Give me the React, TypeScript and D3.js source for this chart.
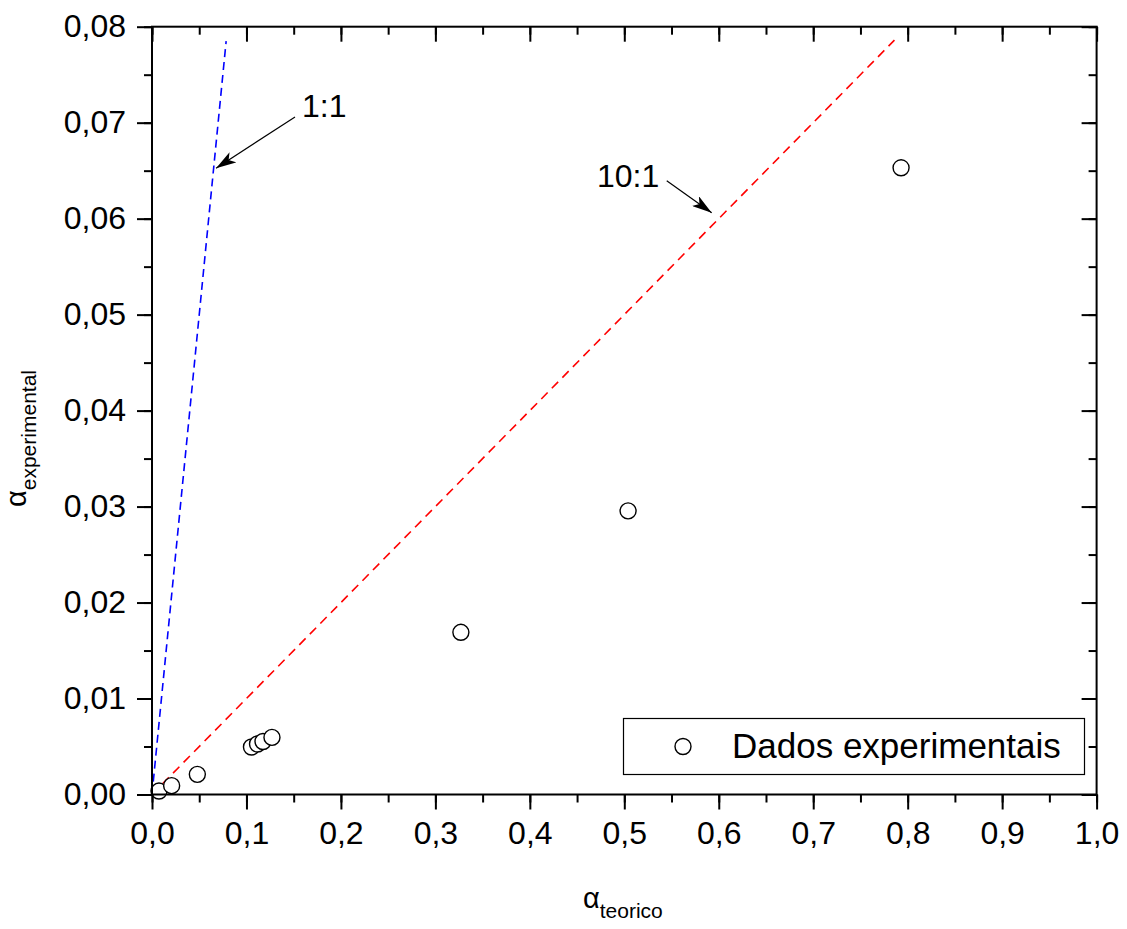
import React, { useEffect, useRef } from 'react';
import * as d3 from 'd3';

const width = 1127;
const height = 929;

// measured data (alpha teorico vs alpha experimental)
const xTeorico = [0.0074, 0.0208, 0.048, 0.1053, 0.1117, 0.1175, 0.127, 0.327, 0.504, 0.793];
const yExperimental = [0.00036, 0.00092, 0.0021, 0.00495, 0.00526, 0.00552, 0.00595, 0.0169, 0.02955, 0.0653];

const xTicks = [0, 0.1, 0.2, 0.3, 0.4, 0.5, 0.6, 0.7, 0.8, 0.9, 1.0];
const yTicks = [0, 0.01, 0.02, 0.03, 0.04, 0.05, 0.06, 0.07, 0.08];

// reference lines y = x / ratio
const refRatios = [1, 10];
const refXEnd = [0.0785, 0.786];
const refColors = ['#0000ff', '#ff0000'];

// annotations: label, text anchor, arrow start, arrow end (data units)
const annLabels = ['1:1', '10:1'];
const annText = [[0.1588, 0.0706], [0.4711, 0.0633]];
const annFrom = [[0.1514, 0.0706], [0.5449, 0.06396]];
const annTo = [[0.0678, 0.06525], [0.5925, 0.06062]];

const legendLabel = 'Dados experimentais';
const font = '"Liberation Sans", Arial, sans-serif';

const App = () => {
  const svgRef = useRef<SVGSVGElement>(null);

  useEffect(() => {
    const svg = d3.select(svgRef.current);
    svg.selectAll('*').remove();

    const left = 152;
    const right = 1096.6;
    const top = 26.7;
    const bottom = 794.5;

    const x = d3.scaleLinear().domain([0, 1]).range([left, right]);
    const y = d3.scaleLinear().domain([0, 0.08]).range([bottom, top]);
    const fmt = (d: number, n: number) => d3.format('.' + n + 'f')(d).replace('.', ',');

    svg.append('defs')
      .append('marker')
      .attr('id', 'arrow')
      .attr('viewBox', '0 0 20 12')
      .attr('refX', 20)
      .attr('refY', 6)
      .attr('markerWidth', 20)
      .attr('markerHeight', 12)
      .attr('markerUnits', 'userSpaceOnUse')
      .attr('orient', 'auto')
      .append('path')
      .attr('d', 'M0,0 L20,6 L0,12 L5,6 Z')
      .attr('fill', '#000');

    // reference lines
    refRatios.forEach((r, i) => {
      svg.append('line')
        .attr('x1', x(0))
        .attr('y1', y(0))
        .attr('x2', x(refXEnd[i]))
        .attr('y2', y(refXEnd[i] / r))
        .attr('stroke', refColors[i])
        .attr('stroke-width', 1.6)
        .attr('stroke-dasharray', r === 1 ? '8,5' : '9,6');
    });

    // points
    svg.append('g')
      .selectAll('circle')
      .data(xTeorico.map((v, i) => [v, yExperimental[i]]))
      .enter()
      .append('circle')
      .attr('cx', (d) => x(d[0]))
      .attr('cy', (d) => y(d[1]))
      .attr('r', 8)
      .attr('fill', '#fff')
      .attr('stroke', '#000')
      .attr('stroke-width', 1.4);

    // annotations
    annLabels.forEach((lab, i) => {
      svg.append('line')
        .attr('x1', x(annFrom[i][0]))
        .attr('y1', y(annFrom[i][1]))
        .attr('x2', x(annTo[i][0]))
        .attr('y2', y(annTo[i][1]))
        .attr('stroke', '#000')
        .attr('stroke-width', 1.2)
        .attr('marker-end', 'url(#arrow)');
      svg.append('text')
        .attr('x', x(annText[i][0]))
        .attr('y', y(annText[i][1]))
        .attr('font-family', font)
        .attr('font-size', 32)
        .text(lab);
    });

    // axes: labelled left/bottom ticks outward, top/right ticks inward
    const yMinor = d3.range(0, 0.0801, 0.005);
    const xMinor = d3.range(0, 1.001, 0.05);
    const blank = () => '';

    svg.append('g').attr('transform', `translate(${left},0)`)
      .call(d3.axisLeft(y).tickValues(yMinor).tickSize(8).tickFormat(blank));
    svg.append('g').attr('transform', `translate(0,${bottom})`)
      .call(d3.axisBottom(x).tickValues(xMinor).tickSize(8).tickFormat(blank));
    svg.append('g').attr('transform', `translate(0,${top})`)
      .call(d3.axisBottom(x).tickValues(xMinor).tickSize(8).tickFormat(blank));
    svg.append('g').attr('transform', `translate(${right},0)`)
      .call(d3.axisLeft(y).tickValues(yMinor).tickSize(8).tickFormat(blank));

    svg.append('g').attr('transform', `translate(${left},0)`)
      .call(d3.axisLeft(y).tickValues(yTicks).tickSize(15).tickPadding(11).tickFormat((d) => fmt(+d, 2)));
    svg.append('g').attr('transform', `translate(0,${bottom})`)
      .call(d3.axisBottom(x).tickValues(xTicks).tickSize(15).tickPadding(12).tickFormat((d) => fmt(+d, 1)));
    svg.append('g').attr('transform', `translate(0,${top})`)
      .call(d3.axisBottom(x).tickValues(xTicks).tickSize(15).tickFormat(blank));
    svg.append('g').attr('transform', `translate(${right},0)`)
      .call(d3.axisLeft(y).tickValues(yTicks).tickSize(15).tickFormat(blank));

    svg.selectAll('.domain').remove();
    svg.selectAll('.tick line').attr('stroke', '#000').attr('stroke-width', 2);
    svg.selectAll('.tick text')
      .attr('font-family', font)
      .attr('font-size', 32)
      .attr('fill', '#000');

    // frame
    svg.append('rect')
      .attr('x', left)
      .attr('y', top)
      .attr('width', right - left)
      .attr('height', bottom - top)
      .attr('fill', 'none')
      .attr('stroke', '#000')
      .attr('stroke-width', 2);

    // legend
    const lg = svg.append('g');
    lg.append('rect')
      .attr('x', 623.5)
      .attr('y', 718.5)
      .attr('width', 461)
      .attr('height', 56)
      .attr('fill', '#fff')
      .attr('stroke', '#000')
      .attr('stroke-width', 1.2);
    lg.append('circle')
      .attr('cx', 683)
      .attr('cy', 746.5)
      .attr('r', 8)
      .attr('fill', '#fff')
      .attr('stroke', '#000')
      .attr('stroke-width', 1.4);
    lg.append('text')
      .attr('x', 732)
      .attr('y', 758)
      .attr('font-family', font)
      .attr('font-size', 35)
      .text(legendLabel);

    // axis titles
    const xt = svg.append('text')
      .attr('x', 583)
      .attr('y', 908)
      .attr('font-family', font)
      .attr('font-size', 29);
    xt.append('tspan').text('α');
    xt.append('tspan').attr('dy', 10).attr('font-size', 21).text('teorico');

    const yt = svg.append('text')
      .attr('transform', 'translate(26,507) rotate(-90)')
      .attr('font-family', font)
      .attr('font-size', 29);
    yt.append('tspan').text('α');
    yt.append('tspan').attr('dy', 10).attr('font-size', 21).text('experimental');
  }, []);

  return (
    <svg
      ref={svgRef}
      width={width}
      height={height}
      style={{ position: 'absolute', left: 0, top: 0, background: '#fff' }}
    />
  );
};

export default App;
